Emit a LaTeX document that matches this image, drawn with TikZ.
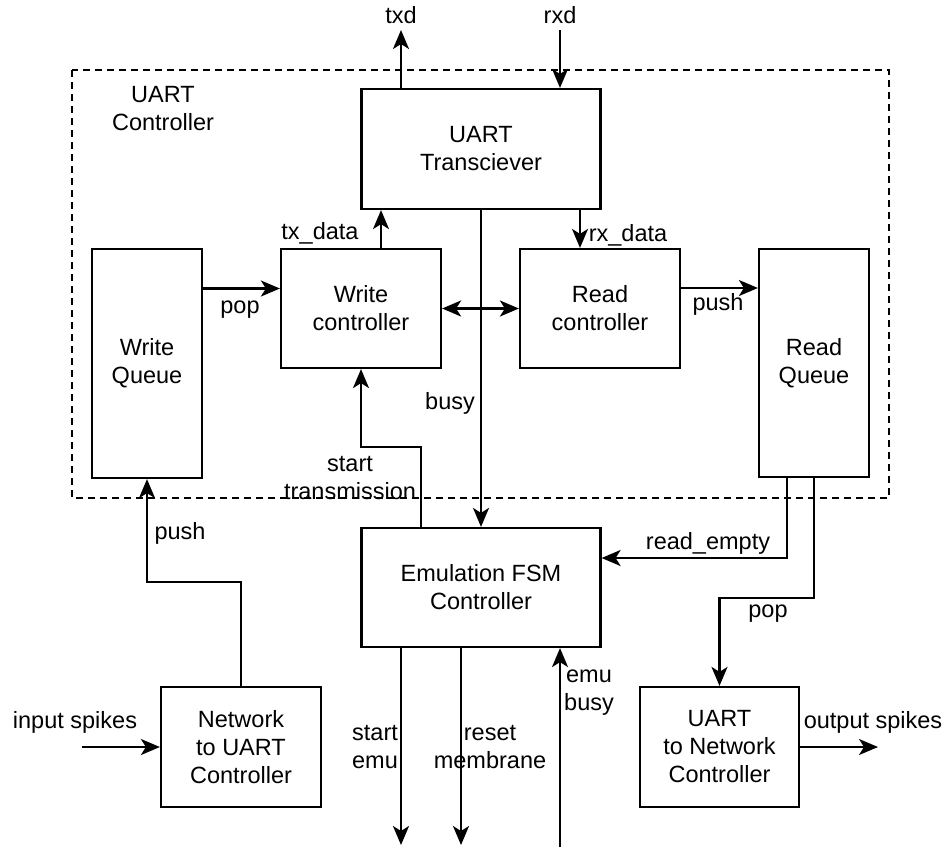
\documentclass[tikz,border=0pt]{standalone}
\usepackage{fontspec}
\setmainfont{Liberation Sans}
\usetikzlibrary{arrows.meta}
\begin{document}
\begin{tikzpicture}[x=1pt,y=-1pt,
  font=\fontsize{23.5}{28}\selectfont,
  line width=2.2pt,
  box/.style={draw, rectangle, align=center, inner sep=0pt},
  lbl/.style={align=center, inner sep=0pt},
  tip/.style={Stealth[length=19pt,width=16pt,inset=5pt]},
  arr/.style={-{Stealth[length=19pt,width=16pt,inset=5pt]}},
  biarr/.style={{Stealth[length=19pt,width=16pt,inset=5pt]}-{Stealth[length=19pt,width=16pt,inset=5pt]}},
  group/.style={draw, dash pattern=on 7pt off 5pt, line width=1.8pt}]
\useasboundingbox (0,0) rectangle (949,847);

% UART controller group
\draw[group] (72,70) rectangle (889,498);
\node[lbl] (grouplbl) at (163,109) {UART\\Controller};

% blocks
\node[box, minimum width=239pt, minimum height=120pt] (trx) at (481,149) {UART\\Transciever};
\node[box, minimum width=110pt, minimum height=229pt] (wq) at (147,363.5) {Write\\Queue};
\node[box, minimum width=160pt, minimum height=119pt] (wc) at (361,308.5) {Write\\controller};
\node[box, minimum width=160pt, minimum height=119pt] (rc) at (600,308.5) {Read\\controller};
\node[box, minimum width=110pt, minimum height=228pt] (rq) at (814,363) {Read\\Queue};
\node[box, minimum width=239pt, minimum height=119pt] (fsm) at (481,587.5) {Emulation FSM\\Controller};
\node[box, minimum width=160pt, minimum height=120pt] (n2u) at (241,747) {Network\\to UART\\Controller};
\node[box, minimum width=159pt, minimum height=120pt] (u2n) at (719.5,747) {UART\\to Network\\Controller};

% free ends of external signals
\coordinate (txdEnd) at (401,30);
\coordinate (rxdStart) at (560,30);
\coordinate (inStart) at (82,747);
\coordinate (outEnd) at (878,747);
\coordinate (startEmuEnd) at (401,845);
\coordinate (resetEnd) at (461,845);
\coordinate (emuBusyStart) at (560,847);

% attachment points
\coordinate (popIn) at ([yshift=20pt]wc.west);
\coordinate (pushIn) at ([yshift=75pt]rq.west);
\coordinate (emptyIn) at ([yshift=29.5pt]fsm.east);

% connectors
\draw[arr] (txdEnd |- trx.north) -- (txdEnd);
\draw[arr] (rxdStart) -- (rxdStart |- trx.north);
\draw[arr] ([xshift=20pt]wc.north) -- ([xshift=20pt]wc.north |- trx.south);
\draw[arr] ([xshift=-20pt]rc.north |- trx.south) -- ([xshift=-20pt]rc.north);
\draw[arr] (trx.south) -- (fsm.north);
\draw[biarr] (wc.east) -- (rc.west);
\draw[arr] (wq.east |- popIn) -- (popIn);
\draw[arr] (rc.east |- pushIn) -- (pushIn);
\draw[arr] ([xshift=-60pt]fsm.north) -- ++(0,-80) -| (wc.south);
\draw[arr] ([xshift=-27pt]rq.south) |- (emptyIn);
\draw[arr] (rq.south) -- ++(0,120) -| (u2n.north);
\draw[arr] (n2u.north) -- ++(0,-104) -| (wq.south);
\draw[arr] (inStart) -- (n2u.west);
\draw[arr] (u2n.east) -- (outEnd);
\draw[arr] (fsm.south -| startEmuEnd) -- (startEmuEnd);
\draw[arr] (fsm.south -| resetEnd) -- (resetEnd);
\draw[arr] (emuBusyStart) -- (fsm.south -| emuBusyStart);

% signal labels
\node[lbl] (txdL) at (401,15) {txd};
\node[lbl] (rxdL) at (560,15) {rxd};
\node[lbl] (txdataL) at (320,233) {tx\_data};
\node[lbl] (rxdataL) at (628,235) {rx\_data};
\node[lbl] (popL) at (240,310) {pop};
\node[lbl] (pushL) at (718,304) {push};
\node[lbl] (busyL) at (450,403) {busy};
\node[lbl] (startTxL) at (350,478) {start\\transmission};
\node[lbl] (pushWL) at (180,533) {push};
\node[lbl] (emptyL) at (708,543) {read\_empty};
\node[lbl] (popRL) at (768,614) {pop};
\node[lbl] (inL) at (75,722) {input spikes};
\node[lbl] (outL) at (873,722) {output spikes};
\node[lbl] (startEmuL) at (375,747) {start\\emu};
\node[lbl] (resetL) at (490,747) {reset\\membrane};
\node[lbl] (emuBusyL) at (589,693) {emu\\busy};
\end{tikzpicture}
\end{document}
